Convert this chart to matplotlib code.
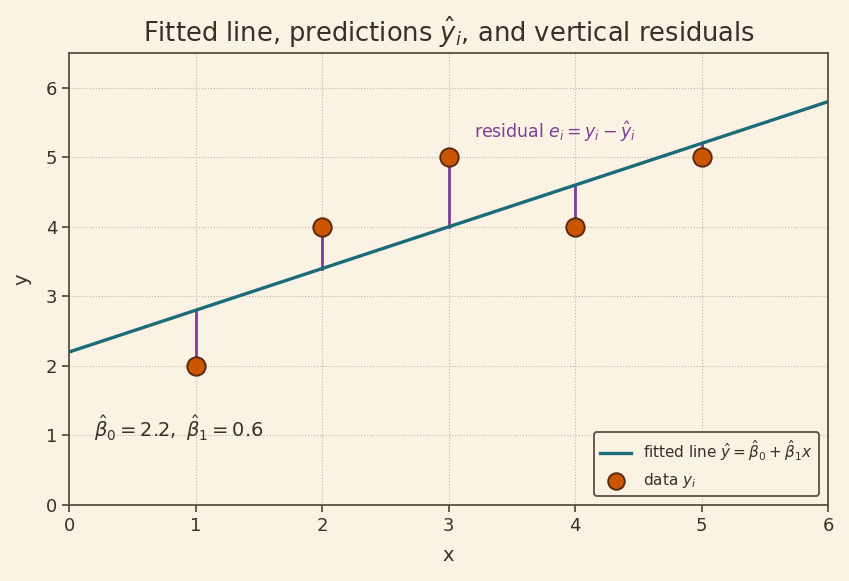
import matplotlib.pyplot as plt
import numpy as np

x_data = [1, 2, 3, 4, 5]
y_data = [2, 4, 5, 4, 5]
beta0 = 2.2
beta1 = 0.6

bg = '#faf3e4'
ink = '#3b3026'
edge = '#5c5040'

plt.rcParams['font.family'] = 'DejaVu Sans'
fig, ax = plt.subplots(figsize=(8.49, 5.81), dpi=100)
fig.patch.set_facecolor(bg)
ax.set_facecolor(bg)
fig.subplots_adjust(left=0.0813, right=0.9753, top=0.9088, bottom=0.1308)

xs = np.array([0, 6])
ax.plot(xs, beta0 + beta1 * xs, color='#1b6b78', lw=2.4,
        label=r'fitted line $\hat{y}=\hat{\beta}_0+\hat{\beta}_1 x$', zorder=2)

for xi, yi in zip(x_data, y_data):
    ax.plot([xi, xi], [yi, beta0 + beta1 * xi], color='#7d3c98', lw=2, zorder=1)

ax.scatter(x_data, y_data, s=175, color='#cc5500', edgecolor='#5a2a12',
           linewidth=1.4, label=r'data $y_i$', zorder=3)

ax.text(3.2, 5.28, r'residual $e_i=y_i-\hat{y}_i$', color='#7d3c98', fontsize=12.5)
ax.text(0.2, 0.98, r'$\hat{\beta}_0=2.2,\ \hat{\beta}_1=0.6$', color=ink, fontsize=14)

ax.set_xlim(0, 6)
ax.set_ylim(0, 6.5)
ax.set_xticks(range(0, 7))
ax.set_yticks(range(0, 7))
ax.grid(True, linestyle=':', color='#bdb5a5', lw=0.8)
ax.set_axisbelow(True)
for s in ax.spines.values():
    s.set_color(edge)
    s.set_linewidth(1.3)
ax.tick_params(colors=ink, labelsize=13, color=edge, width=1.3, length=5)

ax.set_xlabel('x', color=ink, fontsize=14, labelpad=8)
ax.set_ylabel('y', color=ink, fontsize=14, labelpad=10)
ax.set_title(r'Fitted line, predictions $\hat{y}_i$, and vertical residuals',
             color=ink, fontsize=18.5, pad=8)

leg = ax.legend(loc='lower right', fontsize=11, facecolor=bg, edgecolor=edge,
                framealpha=1, borderaxespad=0.6, markerscale=0.9)
leg.get_frame().set_linewidth(1.3)
for t in leg.get_texts():
    t.set_color(ink)

plt.savefig('out.png', dpi=100, facecolor=bg)
